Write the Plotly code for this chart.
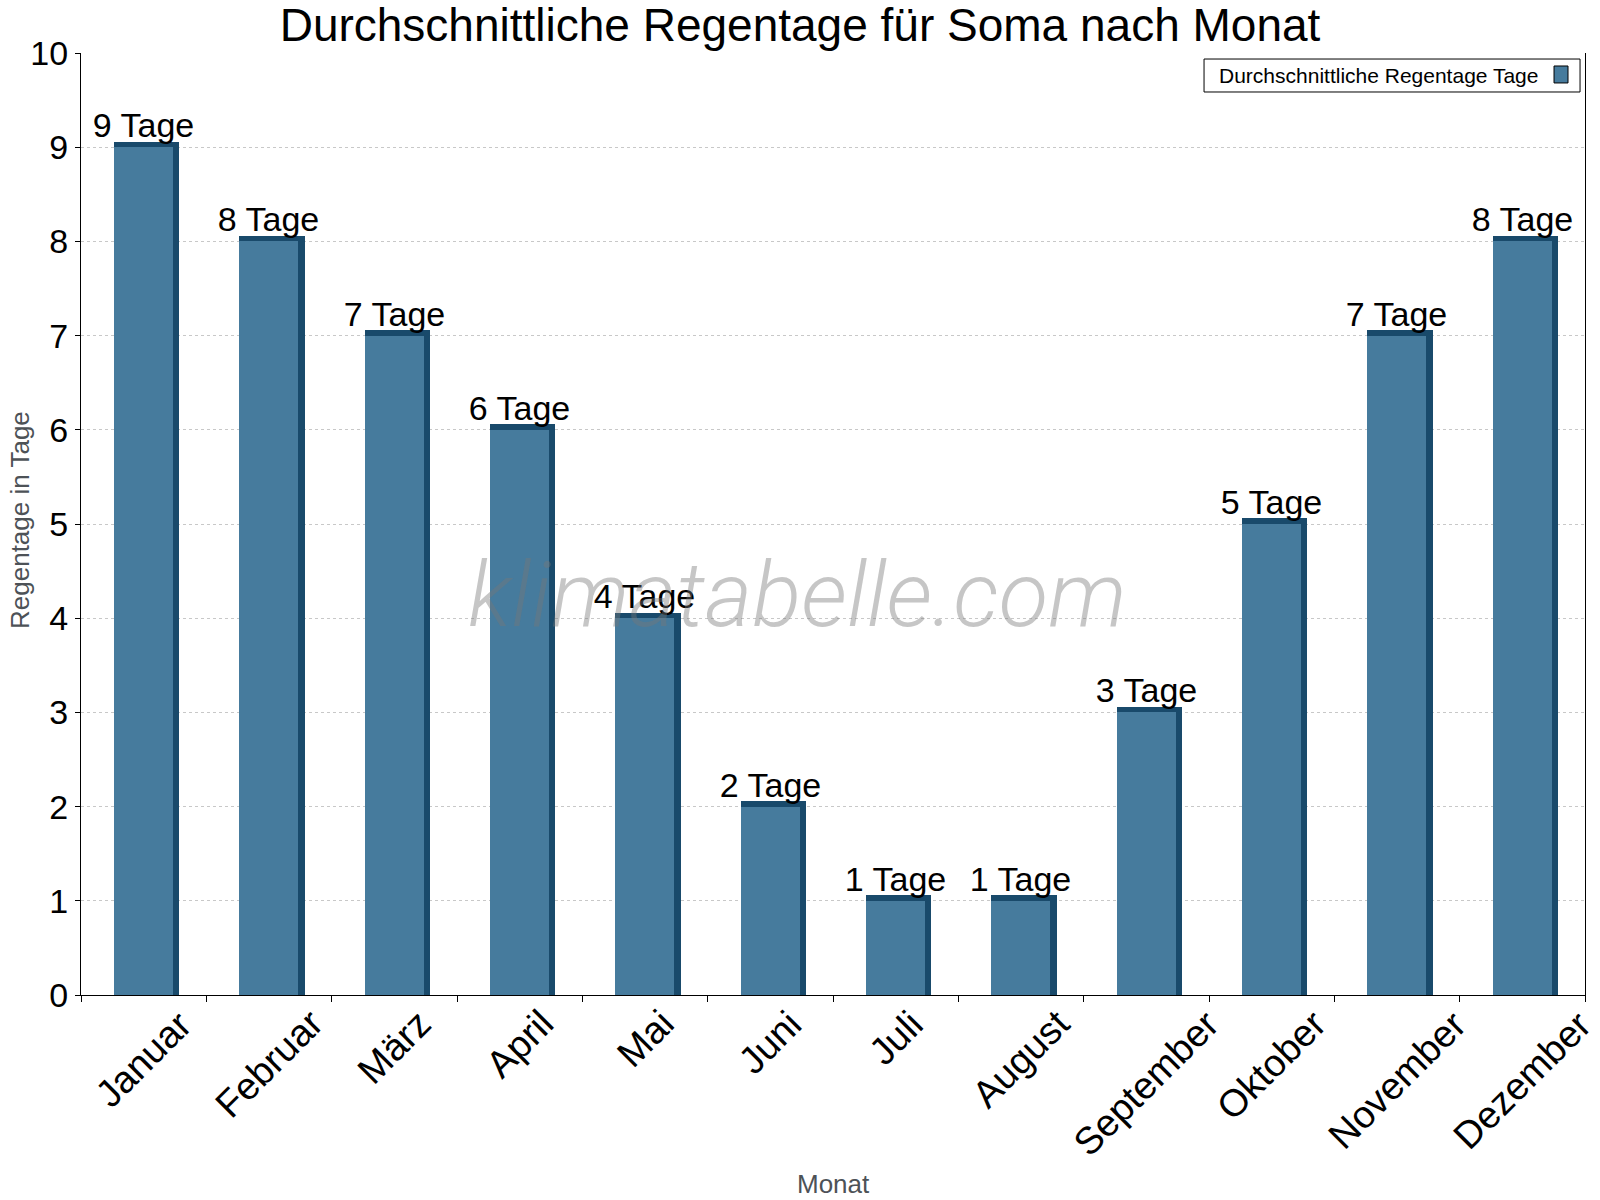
import plotly.graph_objects as go

# ---- data ----
months = ["Januar", "Februar", "März", "April", "Mai", "Juni", "Juli",
          "August", "September", "Oktober", "November", "Dezember"]
rain_days = [9, 8, 7, 6, 4, 2, 1, 1, 3, 5, 7, 8]
unit = "Tage"
series_name = "Durchschnittliche Regentage Tage"
title_text = "Durchschnittliche Regentage für Soma nach Monat"
x_title = "Monat"
y_title = "Regentage in Tage"
watermark = "klimatabelle.com"

# ---- style ----
FONT = "Liberation Sans, Arial, sans-serif"
FRONT = "#467B9D"
DARK = "#194A6B"
DEPTH_Y = 0.06          # 3D top depth (data units)
FRONT_W = 0.471
DARK_W = 0.522
OFFSET = -0.237

fig = go.Figure()

# back / depth face (gives 3D look)
fig.add_trace(go.Bar(
    x=months, y=[v + DEPTH_Y for v in rain_days],
    width=DARK_W, offset=OFFSET,
    marker=dict(color=DARK, line=dict(width=0)),
    hoverinfo="skip", showlegend=False,
))

# front face
fig.add_trace(go.Bar(
    x=months, y=rain_days, name=series_name,
    width=FRONT_W, offset=OFFSET,
    marker=dict(color=FRONT, line=dict(width=0)),
    text=[f"{v} {unit}" for v in rain_days],
    textposition="outside", constraintext="none", cliponaxis=False,
    textfont=dict(family=FONT, size=34, color="black"),
    showlegend=False,
))

annotations = []
# rotated category labels, centred on each category
for m in months:
    annotations.append(dict(
        x=m, xref="x", y=-0.005, yref="paper", text=m, textangle=-45,
        xanchor="center", yanchor="top", showarrow=False,
        font=dict(family=FONT, size=38, color="black"),
    ))

# axis titles
annotations.append(dict(
    x=0.5, xref="paper", y=-0.2006, yref="paper", text=x_title,
    xanchor="center", yanchor="middle", showarrow=False,
    font=dict(family=FONT, size=26, color="#4d5257"),
))
annotations.append(dict(
    x=-0.0406, xref="paper", y=0.5042, yref="paper", text=y_title,
    textangle=-90, xanchor="center", yanchor="middle", showarrow=False,
    font=dict(family=FONT, size=26, color="#4d5257"),
))

# watermark
annotations.append(dict(
    x=0.4767, xref="paper", y=0.4246, yref="paper", text=watermark,
    xanchor="center", yanchor="middle", showarrow=False,
    font=dict(family="Roboto, Liberation Sans, sans-serif", size=91,
              color="rgba(120,120,120,0.42)", style="italic", weight=300),
))

# legend (text with swatch on the right)
annotations.append(dict(
    x=0.7553, xref="paper", y=0.9761, yref="paper", text=series_name,
    xanchor="left", yanchor="middle", showarrow=False,
    font=dict(family=FONT, size=21, color="black"),
))

shapes = [
    dict(type="rect", xref="paper", yref="paper",
         x0=0.7467, x1=0.9967, y0=0.9586, y1=0.9936,
         line=dict(color="black", width=1), fillcolor="white", layer="above"),
    dict(type="rect", xref="paper", yref="paper",
         x0=0.9794, x1=0.9887, y0=0.9682, y1=0.9862,
         line=dict(color="black", width=1), fillcolor=FRONT, layer="above"),
]

fig.update_layout(
    width=1600, height=1200,
    margin=dict(l=81, r=15, t=53, b=205),
    paper_bgcolor="white", plot_bgcolor="white",
    barmode="overlay", bargap=0,
    showlegend=False,
    title=dict(text=title_text, x=0.5, xref="container", xanchor="center",
               y=0.979, yanchor="middle",
               font=dict(family=FONT, size=46, color="black")),
    font=dict(family=FONT, color="black"),
    annotations=annotations,
    shapes=shapes,
    xaxis=dict(
        range=[-0.5, len(months) - 0.5], autorange=False,
        showline=True, linecolor="black", linewidth=1,
        ticks="outside", tickson="boundaries", ticklen=6, tickcolor="black",
        showticklabels=False, showgrid=False, zeroline=False,
    ),
    yaxis=dict(
        range=[0, 10], tick0=0, dtick=1,
        showline=True, linecolor="black", linewidth=1, mirror=True,
        ticks="outside", ticklen=5, tickcolor="black",
        tickfont=dict(family=FONT, size=34, color="black"),
        showgrid=True, gridcolor="#c8c8c8", griddash="dot", gridwidth=1,
        zeroline=False,
    ),
)

fig.write_html("out.html")
